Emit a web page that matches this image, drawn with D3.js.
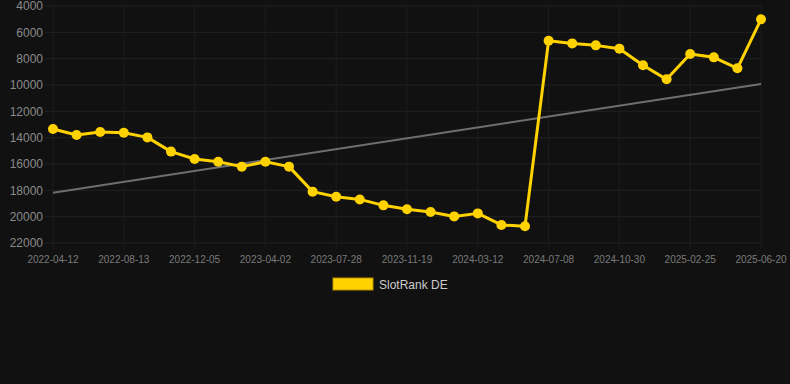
<!DOCTYPE html>
<html>
<head>
<meta charset="utf-8">
<script src="https://cdn.jsdelivr.net/npm/d3@7"></script>
<style>
  html, body { margin: 0; padding: 0; background: #111111; }
  svg { display: block; font-family: "Liberation Sans", Arial, sans-serif; }
</style>
</head>
<body>
<svg id="chart" width="790" height="384"></svg>
<script>
const dates = [
  "2022-04-12", "2022-05-23", "2022-07-03", "2022-08-13", "2022-09-20", "2022-10-28",
  "2022-12-05", "2023-01-13", "2023-02-21", "2023-04-02", "2023-05-11", "2023-06-19",
  "2023-07-28", "2023-09-04", "2023-10-12", "2023-11-19", "2023-12-27", "2024-02-03",
  "2024-03-12", "2024-04-20", "2024-05-30", "2024-07-08", "2024-08-14", "2024-09-21",
  "2024-10-30", "2024-12-08", "2025-01-17", "2025-02-25", "2025-04-04", "2025-05-12",
  "2025-06-20"
]
const rank = [
  13340, 13800, 13570, 13620, 13980, 15060,
  15620, 15830, 16200, 15830, 16200, 18100,
  18490, 18690, 19140, 19440, 19650, 19980,
  19750, 20630, 20730, 6640, 6840, 6990,
  7240, 8500, 9570, 7650, 7900, 8730,
  5010
]
const trend = [18180, 9920]   // first and last date
const yTicks = [4000, 6000, 8000, 10000, 12000, 14000, 16000, 18000, 20000, 22000]
const seriesName = "SlotRank DE"

const svg = d3.select("#chart")

const x = d3.scalePoint().domain(dates).range([53, 761])
const y = d3.scaleLinear().domain([4000, 22000]).range([6, 243])

const tickDates = dates.filter((d, i) => i % 3 === 0)

// grid
const grid = svg.append("g")
grid.selectAll("line.h")
  .data(yTicks)
  .enter()
  .append("line")
    .attr("x1", 45).attr("x2", 761)
    .attr("y1", d => y(d)).attr("y2", d => y(d))
    .attr("stroke", "#222222").attr("stroke-width", 1)
grid.selectAll("line.v")
  .data(tickDates)
  .enter()
  .append("line")
    .attr("x1", d => x(d)).attr("x2", d => x(d))
    .attr("y1", 6).attr("y2", 249)
    .attr("stroke", "#1d1d1d").attr("stroke-width", 1)

// y labels
svg.append("g")
  .selectAll("text")
  .data(yTicks)
  .enter()
  .append("text")
    .attr("x", 43)
    .attr("y", d => y(d))
    .attr("dy", "0.35em")
    .attr("text-anchor", "end")
    .attr("fill", "#8a8a8a")
    .style("font-size", "12px")
    .text(d => d)

// x labels
svg.append("g")
  .selectAll("text")
  .data(tickDates)
  .enter()
  .append("text")
    .attr("x", d => x(d))
    .attr("y", 263)
    .attr("text-anchor", "middle")
    .attr("fill", "#7a7a7a")
    .style("font-size", "10px")
    .text(d => d)

// trend line
svg.append("line")
  .attr("x1", x(dates[0])).attr("y1", y(trend[0]))
  .attr("x2", x(dates[dates.length - 1])).attr("y2", y(trend[1]))
  .attr("stroke", "#6f6f6f").attr("stroke-width", 2)

// series
const line = d3.line()
  .x((d, i) => x(dates[i]))
  .y(d => y(d))

svg.append("path")
  .datum(rank)
  .attr("d", line)
  .attr("fill", "none")
  .attr("stroke", "#ffd200")
  .attr("stroke-width", 3)
  .attr("stroke-linejoin", "round")

svg.append("g")
  .selectAll("circle")
  .data(rank)
  .enter()
  .append("circle")
    .attr("cx", (d, i) => x(dates[i]))
    .attr("cy", d => y(d))
    .attr("r", 5)
    .attr("fill", "#ffd200")

// legend
svg.append("rect")
  .attr("x", 333).attr("y", 278)
  .attr("width", 40).attr("height", 12)
  .attr("fill", "#ffd200")
  .attr("stroke", "#b89600").attr("stroke-width", 1)
svg.append("text")
  .attr("x", 379).attr("y", 289)
  .attr("fill", "#cccccc")
  .style("font-size", "12px")
  .text(seriesName)
</script>
</body>
</html>
